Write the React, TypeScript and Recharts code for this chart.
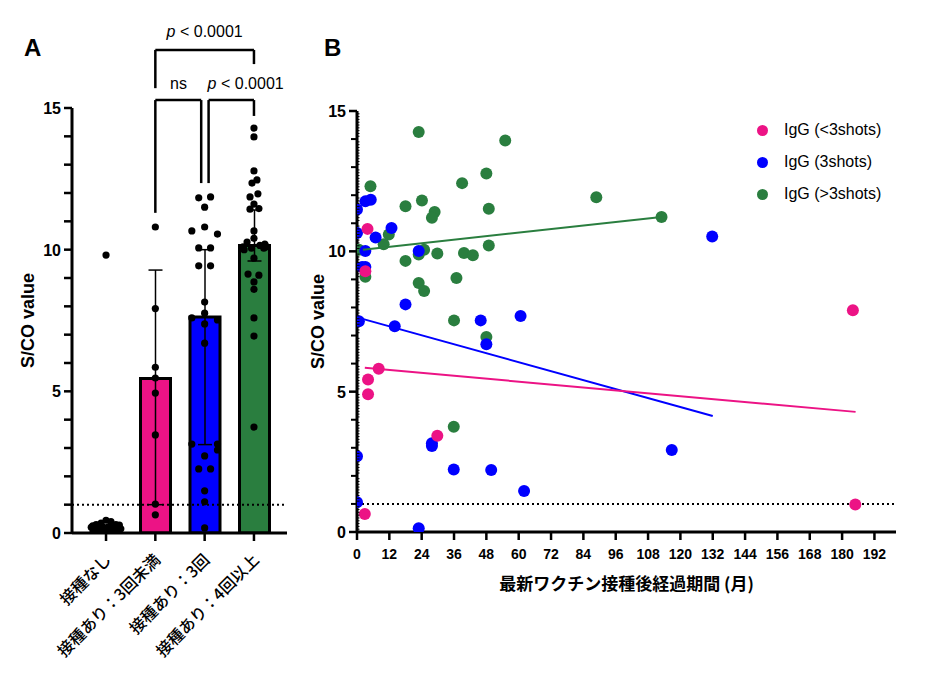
import React from 'react';
import {
  ComposedChart, ScatterChart, Bar, Cell, Scatter, XAxis, YAxis, ErrorBar,
  ReferenceLine, ReferenceDot, Legend,
} from 'recharts';

const LATIN = '"Liberation Sans", Arial, sans-serif';
const CJK = '"Noto Sans CJK JP", "Noto Sans", sans-serif';

const PINK = '#EC1385';
const BLUE = '#0000FF';
const GREEN = '#2A7E3F';

// ---------- panel A ----------
const groupNames = ['接種なし', '接種あり：3回未満', '接種あり：3回', '接種あり：4回以上'];
const groupFills = ['#000000', PINK, BLUE, GREEN];
const barValues = [0.22, 5.45, 7.62, 10.15];
const rangeLow = [0.22, 1.0, 3.12, 9.6];
const rangeHigh = [0.22, 9.28, 10.0, 11.4];

const noneValues = [9.81, 0.45, 0.4, 0.35, 0.3, 0.3, 0.28, 0.25, 0.22, 0.2, 0.18, 0.15, 0.12, 0.1, 0.1, 0.08, 0.15, 0.2, 0.25, 0.05];
const noneJitter = [0, 0, 0.1, -0.1, -0.2, 0.2, 0.27, -0.27, 0.05, -0.05, 0.15, -0.15, 0.25, -0.25, 0.08, -0.08, 0.3, -0.3, 0.18, 0];
const under3Values = [10.8, 7.92, 5.85, 5.47, 4.94, 3.46, 1.02, 0.64];
const under3Jitter = [0, 0, 0, 0, 0, 0, 0, 0];
const threeValues = [11.83, 11.86, 11.5, 10.66, 10.8, 10.55, 10.06, 10.06, 9.43, 9.43, 8.15, 7.76, 7.59, 7.52, 7.38, 6.7, 3.14, 3.14, 2.93, 2.72, 2.26, 2.26, 1.49, 1.1, 0.18];
const threeJitter = [-0.12, 0.12, 0, -0.26, 0, 0.26, -0.12, 0.12, -0.12, 0.12, 0, 0, -0.26, 0.26, 0, 0, -0.26, 0.26, 0.26, 0, -0.12, 0.12, 0, 0, 0];
const fourValues = [14.29, 13.98, 12.78, 12.46, 12.35, 11.97, 11.86, 11.61, 11.43, 11.45, 10.66, 10.27, 10.4, 10.2, 10.1, 10.15, 10.05, 10.0, 10.05, 10.1, 9.7, 9.14, 9.1, 8.86, 8.6, 7.59, 6.95, 3.74];
const fourJitter = [0, 0, 0, 0.06, -0.04, 0.08, -0.08, 0, -0.08, 0.1, 0, -0.14, 0, 0.22, -0.22, 0.12, -0.05, -0.2, 0.2, 0.26, 0, -0.12, 0.1, 0, 0, 0, 0, 0];

const yTicksA = Array.from({ length: 16 }, (_, i) => i);

// significance brackets (group positions, S/CO units)
const comparisons = [
  { from: 1, to: 3, top: 17.05, footFrom: 15.7, footTo: 16.55, text: 'p < 0.0001', tx: 2.0, ty: 17.5, anchor: 'middle' },
  { from: 1, to: 1.93, top: 15.28, footFrom: 11.3, footTo: 12.35, text: 'ns', tx: 1.47, ty: 15.67, anchor: 'middle' },
  { from: 2.08, to: 3, top: 15.28, footFrom: 12.35, footTo: 14.72, text: 'p < 0.0001', tx: 2.06, ty: 15.67, anchor: 'start' },
];

const barData = groupNames.map((name, i) => ({
  x: i,
  name,
  h: barValues[i],
  err: [barValues[i] - rangeLow[i], rangeHigh[i] - barValues[i]],
}));

const toDots = (g: number, vals: number[], jit: number[]) => vals.map((v, i) => ({ x: g + jit[i], v }));
const dotsA = [
  ...toDots(0, noneValues, noneJitter),
  ...toDots(1, under3Values, under3Jitter),
  ...toDots(2, threeValues, threeJitter),
  ...toDots(3, fourValues, fourJitter),
];

// ---------- panel B ----------
const seriesNames = ['IgG (<3shots)', 'IgG (3shots)', 'IgG (>3shots)'];
const seriesColors = [PINK, BLUE, GREEN];

const pinkMonths = [3.9, 3.1, 8.05, 4.1, 4.1, 29.8, 2.9, 184, 184.9];
const pinkValues = [10.8, 9.29, 5.82, 5.43, 4.91, 3.43, 0.64, 7.9, 0.98];
const blueMonths = [0, 3.1, 5.1, 0, 12.8, 6.9, 3.1, 22.9, 1.9, 3.1, 18, 60.7, 0.7, 14, 45.9, 48, 0, 27.8, 27.8, 35.9, 49.8, 62, 0, 22.9, 131.8, 116.8];
const blueValues = [11.49, 11.78, 11.84, 10.65, 10.83, 10.49, 10.01, 10.01, 9.44, 9.44, 8.11, 7.7, 7.51, 7.33, 7.54, 6.69, 2.7, 3.16, 3.06, 2.23, 2.21, 1.46, 1.06, 0.13, 10.53, 2.92];
const greenMonths = [22.9, 55, 48, 39, 5, 24.1, 88.8, 18, 48.9, 28.8, 27.8, 11.8, 9.9, 24.9, 22.9, 29.8, 39.7, 43, 48.9, 18, 0.7, 3.1, 36.9, 22.9, 24.9, 36, 48, 35.9, 113];
const greenValues = [14.25, 13.95, 12.77, 12.43, 12.32, 11.81, 11.93, 11.61, 11.52, 11.4, 11.2, 10.6, 10.25, 10.06, 9.89, 9.92, 9.94, 9.86, 10.21, 9.66, 10.06, 9.09, 9.05, 8.87, 8.59, 7.54, 6.95, 3.75, 11.22];

// fitted regression lines: [start, end]
const pinkFitMonths = [2.9, 185];
const pinkFitValues = [5.85, 4.28];
const blueFitMonths = [0.7, 132];
const blueFitValues = [7.63, 4.13];
const greenFitMonths = [2.2, 113];
const greenFitValues = [10.06, 11.22];

const xTicksB = [0, 12, 24, 36, 48, 60, 72, 84, 96, 108, 120, 132, 144, 156, 168, 180, 192];
const yMinorB = Array.from({ length: 151 }, (_, i) => i / 10);

const pts = (ms: number[], vs: number[]) => ms.map((m, i) => ({ m, v: vs[i] }));

const isMult = (v: number, step: number) => Math.abs(v / step - Math.round(v / step)) < 1e-6;

const YTickA = (props: any) => {
  const { x, y, payload } = props;
  const v = payload.value;
  return (
    <g>
      <line x1={x - 8} x2={x} y1={y} y2={y} stroke="#000" strokeWidth={2.5} />
      {isMult(v, 5) && (
        <text x={x - 11} y={y + 6} textAnchor="end" fontFamily={LATIN} fontWeight="bold" fontSize={16} fill="#000">{v}</text>
      )}
    </g>
  );
};

const XTickA = (props: any) => {
  const { x, y, payload } = props;
  const ax = x + 6;
  const ay = y + 20;
  return (
    <text x={ax} y={ay} textAnchor="end" transform={`rotate(-45 ${ax} ${ay})`} fontFamily={CJK} fontWeight={500} fontSize={16} fill="#000">
      {groupNames[payload.value]}
    </text>
  );
};

const YTickB = (props: any) => {
  const { x, y, payload } = props;
  const v = payload.value;
  if (isMult(v, 5)) {
    return (
      <g>
        <line x1={x - 8} x2={x} y1={y} y2={y} stroke="#000" strokeWidth={2.5} />
        <text x={x - 11} y={y + 6} textAnchor="end" fontFamily={LATIN} fontWeight="bold" fontSize={16} fill="#000">{v}</text>
      </g>
    );
  }
  if (isMult(v, 1)) {
    return <line x1={x - 6} x2={x} y1={y} y2={y} stroke="#000" strokeWidth={2} />;
  }
  return <line x1={x} x2={x + 2.5} y1={y} y2={y} stroke="#000" strokeWidth={1} />;
};

const XTickB = (props: any) => {
  const { x, y, payload } = props;
  return (
    <text x={x} y={y + 17} textAnchor="middle" fontFamily={LATIN} fontWeight="bold" fontSize={14} fill="#000">{payload.value}</text>
  );
};

const SigText = (c: any) => (props: any) => (
  <text x={props.cx} y={props.cy} textAnchor={c.anchor} fontFamily={LATIN} fontSize={16} fill="#000">
    {c.text.startsWith('p ') ? (
      <>
        <tspan fontStyle="italic">p</tspan>
        <tspan>{c.text.slice(1)}</tspan>
      </>
    ) : c.text}
  </text>
);

const noShape = () => <g />;

const LegendB = () => (
  <div style={{ width: 220 }}>
    {seriesNames.map((n, i) => (
      <div key={n} style={{ display: 'flex', alignItems: 'center', height: 32 }}>
        <span style={{ display: 'inline-block', width: 11, height: 11, borderRadius: '50%', background: seriesColors[i], marginRight: 16 }} />
        <span style={{ fontFamily: LATIN, fontSize: 16, color: '#000' }}>{n}</span>
      </div>
    ))}
  </div>
);

const axisStroke = { stroke: '#000', strokeWidth: 3 };

export default function App() {
  return (
    <div style={{ position: 'absolute', left: 0, top: 0, width: 949, height: 687, background: '#fff' }}>
      <div style={{ position: 'absolute', left: 24, top: 34, fontFamily: LATIN, fontWeight: 'bold', fontSize: 24 }}>A</div>
      <div style={{ position: 'absolute', left: 324, top: 34, fontFamily: LATIN, fontWeight: 'bold', fontSize: 24 }}>B</div>

      <div style={{ position: 'absolute', left: 0, top: 0 }}>
        <ComposedChart width={300} height={687} data={barData} margin={{ top: 108, right: 13, bottom: 14, left: 12 }}>
          <XAxis
            xAxisId="num"
            type="number"
            dataKey="x"
            domain={[-0.69, 3.67]}
            allowDataOverflow
            ticks={[0, 1, 2, 3]}
            interval={0}
            height={140}
            tickSize={8}
            tickMargin={0}
            axisLine={axisStroke}
            tickLine={{ stroke: '#000', strokeWidth: 2.5 }}
            tick={<XTickA />}
          />
          <XAxis xAxisId="cat" type="category" dataKey="name" hide height={0} padding={{ left: 9, right: 8 }} />
          <YAxis
            type="number"
            domain={[0, 15]}
            allowDataOverflow
            ticks={yTicksA}
            interval={0}
            width={60}
            tickSize={0}
            tickMargin={0}
            tickLine={false}
            axisLine={axisStroke}
            tick={<YTickA />}
            label={{ value: 'S/CO value', angle: -90, position: 'insideLeft', offset: 16, style: { textAnchor: 'middle', fontFamily: LATIN, fontWeight: 'bold', fontSize: 18, fill: '#000' } }}
          />
          <ReferenceLine xAxisId="num" y={1} stroke="#000" strokeWidth={2} strokeDasharray="2 3" />
          <Bar xAxisId="cat" dataKey="h" barSize={30} stroke="#000" strokeWidth={3} isAnimationActive={false}>
            {barData.map((d, i) => <Cell key={d.name} fill={groupFills[i]} />)}
            <ErrorBar dataKey="err" width={7} stroke="#000" strokeWidth={1.5} direction="y" isAnimationActive={false} />
          </Bar>
          <Scatter xAxisId="num" data={dotsA} dataKey="v" isAnimationActive={false} shape={(p: any) => <circle cx={p.cx} cy={p.cy} r={3.6} fill="#000" />} />
          {comparisons.flatMap((c, i) => [
            <ReferenceLine xAxisId="num" key={`h${i}`} segment={[{ x: c.from, y: c.top }, { x: c.to, y: c.top }]} ifOverflow="visible" stroke="#000" strokeWidth={2.5} />,
            <ReferenceLine xAxisId="num" key={`l${i}`} segment={[{ x: c.from, y: c.top }, { x: c.from, y: c.footFrom }]} ifOverflow="visible" stroke="#000" strokeWidth={2.5} />,
            <ReferenceLine xAxisId="num" key={`r${i}`} segment={[{ x: c.to, y: c.top }, { x: c.to, y: c.footTo }]} ifOverflow="visible" stroke="#000" strokeWidth={2.5} />,
            <ReferenceDot xAxisId="num" key={`t${i}`} x={c.tx} y={c.ty} r={0} ifOverflow="visible" shape={SigText(c)} />,
          ])}
        </ComposedChart>
      </div>

      <div style={{ position: 'absolute', left: 300, top: 0 }}>
        <ScatterChart width={649} height={687} margin={{ top: 111, right: 53, bottom: 95, left: 12 }}>
          <XAxis
            type="number"
            dataKey="m"
            domain={[0, 200]}
            allowDataOverflow
            ticks={xTicksB}
            interval={0}
            height={60}
            tickSize={8}
            tickMargin={2}
            axisLine={axisStroke}
            tickLine={{ stroke: '#000', strokeWidth: 2.5 }}
            tick={<XTickB />}
            label={{ value: '最新ワクチン接種後経過期間 (月)', position: 'insideBottom', offset: 2, style: { fontFamily: CJK, fontWeight: 'bold', fontSize: 17, fill: '#000' } }}
          />
          <YAxis
            type="number"
            dataKey="v"
            domain={[0, 15]}
            allowDataOverflow
            ticks={yMinorB}
            interval={0}
            width={45}
            tickSize={0}
            tickMargin={0}
            tickLine={false}
            axisLine={axisStroke}
            tick={<YTickB />}
            label={{ value: 'S/CO value', angle: -90, position: 'insideLeft', offset: 6, style: { textAnchor: 'middle', fontFamily: LATIN, fontWeight: 'bold', fontSize: 18, fill: '#000' } }}
          />
          <ReferenceLine y={1} stroke="#000" strokeWidth={2} strokeDasharray="2 3" />
          <Legend layout="vertical" align="center" verticalAlign="middle" wrapperStyle={{ left: 457, top: 114, width: 220 }} content={<LegendB />} />
          <Scatter name={seriesNames[2]} data={pts(greenMonths, greenValues)} fill={GREEN} isAnimationActive={false} shape={(p: any) => <circle cx={p.cx} cy={p.cy} r={6} fill={GREEN} />} />
          <Scatter name={seriesNames[1]} data={pts(blueMonths, blueValues)} fill={BLUE} isAnimationActive={false} shape={(p: any) => <circle cx={p.cx} cy={p.cy} r={6} fill={BLUE} />} />
          <Scatter name={seriesNames[0]} data={pts(pinkMonths, pinkValues)} fill={PINK} isAnimationActive={false} shape={(p: any) => <circle cx={p.cx} cy={p.cy} r={6} fill={PINK} />} />
          <Scatter data={pts(greenFitMonths, greenFitValues)} line={{ stroke: GREEN, strokeWidth: 2 }} shape={noShape} legendType="none" isAnimationActive={false} />
          <Scatter data={pts(blueFitMonths, blueFitValues)} line={{ stroke: BLUE, strokeWidth: 2 }} shape={noShape} legendType="none" isAnimationActive={false} />
          <Scatter data={pts(pinkFitMonths, pinkFitValues)} line={{ stroke: PINK, strokeWidth: 2 }} shape={noShape} legendType="none" isAnimationActive={false} />
        </ScatterChart>
      </div>
    </div>
  );
}
